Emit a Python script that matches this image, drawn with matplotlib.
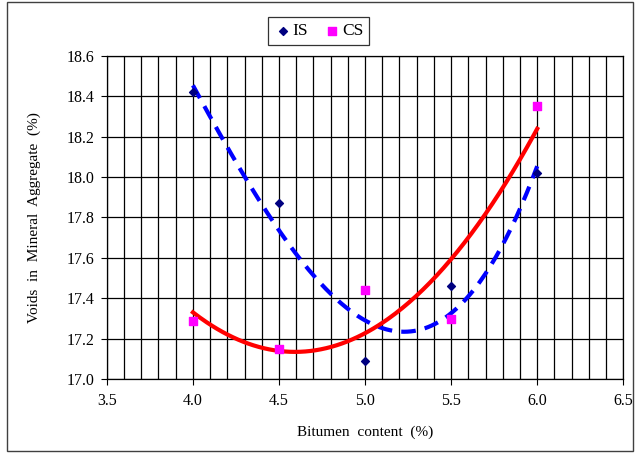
import numpy as np
import matplotlib
matplotlib.use("Agg")
import matplotlib.pyplot as plt
from matplotlib.ticker import MultipleLocator
from matplotlib.patches import Rectangle

plt.rcParams['font.family'] = ['Liberation Serif', 'DejaVu Serif']

# data
bitumen = [4.0, 4.5, 5.0, 5.5, 6.0]
vma_is = [18.42, 17.87, 17.09, 17.46, 18.02]
vma_cs = [17.29, 17.15, 17.44, 17.30, 18.35]

# trend lines (polynomial fits, like Excel trendlines)
xs = np.linspace(4.0, 6.0, 200)
fit_is = np.polyval(np.polyfit(bitumen, vma_is, 3), xs)
fit_cs = np.polyval(np.polyfit(bitumen, vma_cs, 2), xs)

fig = plt.figure(figsize=(6.36, 4.53), dpi=100)
ax = fig.add_axes([0.168, 0.163, 0.812, 0.714])

ax.plot(xs, fit_is, color='#0000FF', lw=3, ls=(0, (3.5, 2.2)), zorder=3)
ax.plot(xs, fit_cs, color='#FF0000', lw=3, zorder=3)
ax.scatter(bitumen, vma_is, marker='D', s=16, color='#000080', zorder=4, label='IS')
ax.scatter(bitumen, vma_cs, marker='s', s=36, color='#FF00FF', zorder=4, label='CS')

ax.set_xlim(3.5, 6.5)
ax.set_ylim(17.0, 18.6)
ax.xaxis.set_major_locator(MultipleLocator(0.5))
ax.xaxis.set_minor_locator(MultipleLocator(0.1))
ax.yaxis.set_major_locator(MultipleLocator(0.2))
ax.xaxis.set_major_formatter('{x:.1f}')
ax.yaxis.set_major_formatter('{x:.1f}')
ax.grid(True, which='major', color='black', lw=0.9)
ax.grid(True, which='minor', axis='x', color='black', lw=0.9)
ax.tick_params(axis='both', which='major', labelsize=11.5, length=4, direction='out', width=0.8)
ax.tick_params(axis='x', which='minor', length=0)
ax.tick_params(axis='x', which='major', pad=6)
ax.tick_params(axis='y', which='major', pad=5)
for s in ax.spines.values():
    s.set_color('black')
    s.set_linewidth(0.9)

ax.set_xlabel('Bitumen  content  (%)', fontsize=11, labelpad=12)
ax.set_ylabel('Voids  in  Mineral  Aggregate  (%)', fontsize=11, labelpad=18)

leg = ax.legend(loc='lower center', bbox_to_anchor=(0.41, 1.005), ncol=2, fontsize=12.5,
                handletextpad=0.05, columnspacing=0.9, handlelength=1.0,
                frameon=True, fancybox=False, edgecolor='black', borderpad=0.35)
leg.get_frame().set_linewidth(0.9)

fig.patches.append(Rectangle((0.011, 0.004), 0.984, 0.992, transform=fig.transFigure,
                             fill=False, edgecolor='#404040', lw=1))

fig.savefig('out.png', dpi=100)
